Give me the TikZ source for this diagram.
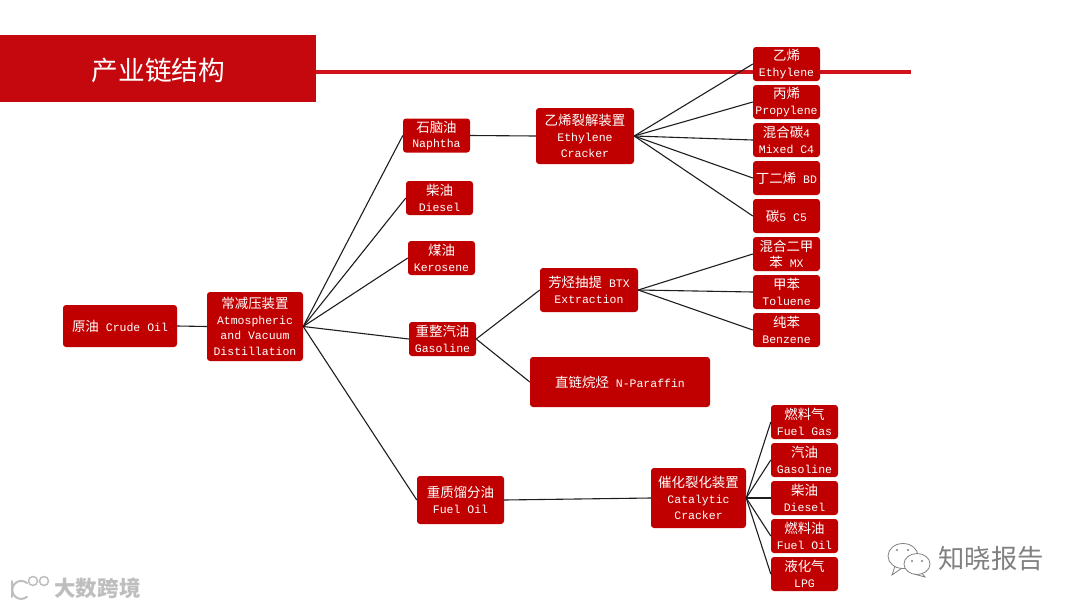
\documentclass[tikz,border=0pt]{standalone}
\usepackage{fontspec}
\setmainfont{Liberation Mono}
\newfontfamily\cjk[Scale=1.17]{Noto Sans CJK SC}
\begin{document}
\begin{tikzpicture}[x=1pt, y=-1pt,
    redBox/.style={fill=boxColour, text=white, rounded corners=3pt, inner sep=0pt, align=center,
        font=\fontsize{11.5}{15.7}\selectfont},
    smallBox/.style={redBox, minimum width=67pt, minimum height=34pt},
    wireLine/.style={draw=wireColour, line width=1.1pt}]
    \definecolor{boxColour}{HTML}{C00000}
    \definecolor{bandColour}{HTML}{C5080D}
    \definecolor{lineColour}{HTML}{D0121A}
    \definecolor{wireColour}{HTML}{1E1E1E}
    \definecolor{markColour}{HTML}{BEBEBE}

    \useasboundingbox (0,0) rectangle (1080,608);

    % Title band and rule
    \node[fill=bandColour, minimum width=316pt, minimum height=67pt, inner sep=0pt] (band) at (158,68.5) {};
    \node[text=white, font=\cjk\fontsize{22.8}{28}\selectfont] (title) at (158.5,70) {产业链结构};
    \coordinate (ruleEnd) at (911,72);
    \draw[lineColour, line width=3.5pt] (band.east |- ruleEnd) -- (ruleEnd);

    % Left column
    \node[redBox, minimum width=114pt, minimum height=42pt] (crude) at (120,326) {{\cjk 原油} Crude Oil};
    \node[redBox, minimum width=96pt, minimum height=69pt] (distill) at (255,326.5)
        {{\cjk 常减压装置}\\Atmospheric\\and Vacuum\\Distillation};

    % Distillation cuts
    \node[smallBox] (naphtha) at (436.5,135.5) {{\cjk 石脑油}\\Naphtha};
    \node[smallBox] (dieselCut) at (439.5,198) {{\cjk 柴油}\\Diesel};
    \node[smallBox] (kerosene) at (441.5,258) {{\cjk 煤油}\\Kerosene};
    \node[smallBox] (gasolineCut) at (442.5,339) {{\cjk 重整汽油}\\Gasoline};
    \node[redBox, minimum width=87pt, minimum height=48pt] (fuelOilCut) at (460.5,500) {{\cjk 重质馏分油}\\Fuel Oil};

    % Units
    \node[redBox, minimum width=98pt, minimum height=56pt] (ethCracker) at (585,136)
        {{\cjk 乙烯裂解装置}\\Ethylene\\Cracker};
    \node[redBox, minimum width=98pt, minimum height=44pt] (btx) at (589,290) {{\cjk 芳烃抽提} BTX\\Extraction};
    \node[redBox, minimum width=180pt, minimum height=50pt] (paraffin) at (620,382) {{\cjk 直链烷烃} N-Paraffin};
    \node[redBox, minimum width=95pt, minimum height=60pt] (catCracker) at (698.5,498)
        {{\cjk 催化裂化装置}\\Catalytic\\Cracker};

    % Products of the ethylene cracker
    \node[smallBox] (ethylene) at (786.5,64) {{\cjk 乙烯}\\Ethylene};
    \node[smallBox] (propylene) at (786.5,102) {{\cjk 丙烯}\\Propylene};
    \node[smallBox] (mixedC) at (786.5,140) {{\cjk 混合碳}4\\Mixed C4};
    \node[smallBox] (butadiene) at (786.5,178) {{\cjk 丁二烯} BD};
    \node[smallBox] (carbonFive) at (786.5,216) {{\cjk 碳}5 C5};

    % Products of the BTX unit
    \node[smallBox] (xylene) at (786.5,254) {{\cjk 混合二甲}\\{\cjk 苯} MX};
    \node[smallBox] (toluene) at (786.5,292) {{\cjk 甲苯}\\Toluene};
    \node[smallBox] (benzene) at (786.5,330) {{\cjk 纯苯}\\Benzene};

    % Products of the catalytic cracker
    \node[smallBox] (fuelGas) at (804.5,422) {{\cjk 燃料气}\\Fuel Gas};
    \node[smallBox] (gasolineOut) at (804.5,460) {{\cjk 汽油}\\Gasoline};
    \node[smallBox] (dieselOut) at (804.5,498) {{\cjk 柴油}\\Diesel};
    \node[smallBox] (fuelOilOut) at (804.5,536) {{\cjk 燃料油}\\Fuel Oil};
    \node[smallBox] (lpg) at (804.5,574) {{\cjk 液化气}\\LPG};

    % Connectors
    \draw[wireLine] (crude.east) -- (distill.west);
    \foreach \cut in {naphtha,dieselCut,kerosene,gasolineCut,fuelOilCut}
        \draw[wireLine] (distill.east) -- (\cut.west);
    \draw[wireLine] (naphtha.east) -- (ethCracker.west);
    \draw[wireLine] (gasolineCut.east) -- (btx.west);
    \draw[wireLine] (gasolineCut.east) -- (paraffin.west);
    \draw[wireLine] (fuelOilCut.east) -- (catCracker.west);
    \foreach \prod in {ethylene,propylene,mixedC,butadiene,carbonFive}
        \draw[wireLine] (ethCracker.east) -- (\prod.west);
    \foreach \prod in {xylene,toluene,benzene}
        \draw[wireLine] (btx.east) -- (\prod.west);
    \foreach \prod in {fuelGas,gasolineOut,dieselOut,fuelOilOut,lpg}
        \draw[wireLine] (catCracker.east) -- (\prod.west);

    % Watermark, bottom left
    \draw[markColour, line width=2pt, line cap=round] (12,581) -- (12,597);
    \draw[markColour, line width=2pt, line cap=round] (27,583) arc[start angle=50, end angle=310, radius=9pt];
    \draw[markColour, line width=1.5pt] (33,581) circle[radius=4.5pt] (44,581) circle[radius=4.5pt];
    \node[text=markColour, font=\cjk\bfseries\fontsize{18.4}{22}\selectfont] (markLeft) at (97.5,588.5) {大数跨境};

    % Watermark, bottom right
    \draw[gray, fill=white, line width=0.8pt] (895,566) -- (892,575) -- (902,568);
    \draw[gray, fill=white, line width=0.8pt] (903,556) ellipse[x radius=15pt, y radius=12.5pt];
    \draw[gray, fill=white, line width=0.8pt] (921,572) -- (925,577) -- (914,574);
    \draw[gray, fill=white, line width=0.8pt] (917,564) ellipse[x radius=13pt, y radius=10.5pt];
    \foreach \dotX/\dotY in {897/550,908/550,912/561,922/561}
        \fill[gray] (\dotX,\dotY) circle[radius=1.2pt];
    \node[text=gray, font=\cjk\fontsize{22.5}{28}\selectfont] (markRight) at (991,559) {知晓报告};
\end{tikzpicture}
\end{document}
